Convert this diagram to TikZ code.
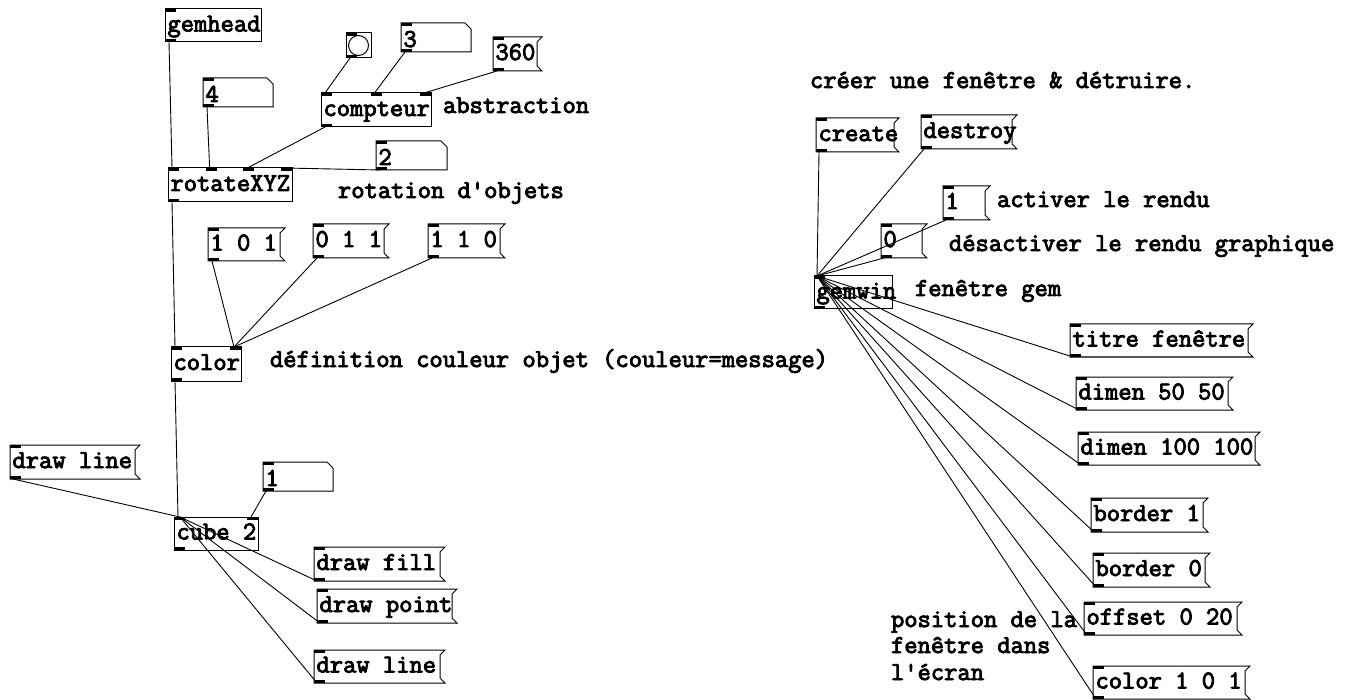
\documentclass[tikz,border=0pt]{standalone}
\usepackage{fontspec}
\newfontfamily\pdmono{Latin Modern Mono}[FakeBold=3.4]
\usetikzlibrary{calc}

\tikzset{
  pdfnt/.style={font=\pdmono\fontsize{25.8}{26}\selectfont},
  pdbase/.style n args={2}{pdfnt, anchor=north west, outer sep=0pt,
    inner xsep=2.5pt, inner ysep=0pt, minimum height=#2pt,
    execute at begin node={\hbox to \dimexpr#1pt-5pt\relax\bgroup},
    execute at end node={\hss\egroup}},
  obj/.style n args={2}{pdbase={#1}{#2}, draw, line width=1pt,
    text height=16pt, text depth=4pt},
  msg/.style n args={2}{pdbase={#1}{#2}, text height=16pt, text depth=4pt},
  numb/.style n args={2}{pdbase={#1}{#2}, text height=19pt, text depth=0pt},
  frame/.style={line width=1pt},
  wire/.style={line width=0.9pt},
  note/.style={pdfnt, anchor=base west, inner sep=0pt, outer sep=0pt}
}

% flag-shaped outline of a message box
\newcommand\msgframe[1]{%
  \draw[frame] (#1.north west) -- ([xshift=5pt]#1.north east)
    -- ([yshift=-5pt]#1.north east) -- ([yshift=5pt]#1.south east)
    -- ([xshift=5pt]#1.south east) -- (#1.south west) -- cycle;}
% number box outline with its clipped top-right corner
\newcommand\numframe[1]{%
  \draw[frame] (#1.north west) -- ([xshift=-6pt]#1.north east)
    -- ([yshift=-6pt]#1.north east) -- (#1.south east)
    -- (#1.south west) -- cycle;}
% inlet and outlet marks: node, number of inlets, number of outlets
\newcommand\pdports[3]{%
  \foreach \k in {1,...,#2}{%
    \pgfmathsetmacro\f{(\k-1)/max(#2-1,1)}%
    \fill ($(#1.north west)!\f!(#1.north east)$) ++({-11*\f},0) rectangle ++(11,3);
  }%
  \foreach \k in {1,...,#3}{%
    \pgfmathsetmacro\f{(\k-1)/max(#3-1,1)}%
    \fill ($(#1.south west)!\f!(#1.south east)$) ++({-11*\f},0) rectangle ++(11,-3);
  }}

\begin{document}
\begin{tikzpicture}[x=1pt,y=-1pt]
\fill[white] (0,0) rectangle (1362,700);
\useasboundingbox (0,0) rectangle (1362,700);

% ---------- left patch: rotating cube ----------
\node[obj={96}{33}]  (gemhead) at (165,9)   {gemhead};
\node[draw, line width=1pt, anchor=north west, outer sep=0pt, inner sep=0pt,
      minimum size=25pt] (bang) at (346,33) {};
\draw[frame] (bang.center) circle (10pt);
\node[numb={70}{29}] (num3) at (401,23)  {3};
\node[msg={44}{34}]  (m360) at (493,37)  {360};
\node[numb={70}{29}] (num4) at (203,78)  {4};
\node[obj={110}{34}] (compteur) at (321,93) {compteur};
\node[numb={71}{29}] (num2) at (376,141) {2};
\node[obj={124}{34}] (rotxyz) at (168,168) {rotateXYZ};
\node[msg={72}{33}]  (m101) at (208,228) {1 0 1};
\node[msg={71}{34}]  (m011) at (313,224) {0 1 1};
\node[msg={72}{34}]  (m110) at (428,224) {1 1 0};
\node[obj={70}{34}]  (color) at (171,347) {color};
\node[msg={125}{34}] (dline1) at (10,445) {draw line};
\node[numb={70}{29}] (num1) at (263,462) {1};
\node[obj={84}{33}]  (cube) at (174,517) {cube 2};
\node[msg={126}{34}] (dfill) at (314,547) {draw fill};
\node[msg={135}{34}] (dpoint) at (317,589) {draw point};
\node[msg={126}{33}] (dline2) at (314,650) {draw line};

\foreach \n in {num3,num4,num2,num1} {\numframe{\n}}
\foreach \n in {m360,m101,m011,m110,dline1,dfill,dpoint,dline2} {\msgframe{\n}}
\foreach \n in {gemhead,bang,num3,num4,num2,num1,m360,m101,m011,m110,
                dline1,dfill,dpoint,dline2} {\pdports{\n}{1}{1}}
\pdports{compteur}{3}{1}
\pdports{rotxyz}{4}{1}
\pdports{color}{2}{1}
\pdports{cube}{2}{1}

\node[note] (cabs) at (443,113) {abstraction};
\node[note] (crot) at (338,198) {rotation d'objets};
\node[note] (ccol) at (270,367) {définition couleur objet (couleur=message)};

\draw[wire] ([xshift=4pt]gemhead.south west) -- ([xshift=4pt]rotxyz.north west);
\draw[wire] ([xshift=4pt]num4.south west) -- ($(rotxyz.north west)!0.3333!(rotxyz.north east)+(0.3,0)$);
\draw[wire] ([xshift=4pt]compteur.south west) -- ($(rotxyz.north west)!0.6667!(rotxyz.north east)+(-3.3,0)$);
\draw[wire] ([xshift=4pt]num2.south west) -- ([xshift=-7pt]rotxyz.north east);
\draw[wire] ([xshift=4pt]bang.south west) -- ([xshift=4pt]compteur.north west);
\draw[wire] ([xshift=4pt]num3.south west) -- ($(compteur.north west)!0.5!(compteur.north east)+(-1.5,0)$);
\draw[wire] ([xshift=4pt]m360.south west) -- ([xshift=-7pt]compteur.north east);
\draw[wire] ([xshift=4pt]rotxyz.south west) -- ([xshift=4pt]color.north west);
\foreach \n in {m101,m011,m110}
  \draw[wire] ([xshift=4pt]\n.south west) -- ([xshift=-7pt]color.north east);
\draw[wire] ([xshift=4pt]color.south west) -- ([xshift=4pt]cube.north west);
\draw[wire] ([xshift=3pt]num1.south west) -- ([xshift=-7pt]cube.north east);
\foreach \n in {dline1,dfill,dpoint,dline2}
  \draw[wire] ([xshift=3pt]\n.south west) -- ([xshift=6pt]cube.north west);

% ---------- right patch: the gem window ----------
\node[note] (cwin) at (810,88) {créer une fenêtre \& détruire.};
\node[msg={78}{34}]  (create) at (816,118) {create};
\node[msg={91}{34}]  (destroy) at (921,115) {destroy};
\node[msg={42}{34}]  (on) at (943,186) {1};
\node[msg={41}{34}]  (off) at (881,224) {0};
\node[obj={78}{33}]  (gemwin) at (814,276) {gemwin};
\node[msg={178}{33}] (titre) at (1070,324) {titre fenêtre};
\node[msg={152}{33}] (dim50) at (1076,377) {dimen 50 50};
\node[msg={177}{33}] (dim100) at (1078,432) {dimen 100 100};
\node[msg={112}{34}] (bord1) at (1091,498) {border 1};
\node[msg={112}{34}] (bord0) at (1093,553) {border 0};
\node[msg={153}{33}] (offs) at (1084,602) {offset 0 20};
\node[msg={152}{33}] (col101) at (1093,666) {color 1 0 1};

\foreach \n in {create,destroy,on,off,titre,dim50,dim100,bord1,bord0,offs,col101}
  {\msgframe{\n}\pdports{\n}{1}{1}}
\pdports{gemwin}{1}{1}

\node[note] (con) at (997,207) {activer le rendu};
\node[note] (coff) at (949,251) {désactiver le rendu graphique};
\node[note] (cgem) at (915,296) {fenêtre gem};
\node[note] (cpos1) at (891,627) {position de la};
\node[note] (cpos2) at (891,653) {fenêtre dans};
\node[note] (cpos3) at (891,680) {l'écran};

\foreach \n in {create,destroy,on,off,titre,dim50,dim100,bord1,bord0,offs,col101}
  \draw[wire] ([xshift=3pt]\n.south west) -- ([xshift=3pt]gemwin.north west);
\end{tikzpicture}
\end{document}
